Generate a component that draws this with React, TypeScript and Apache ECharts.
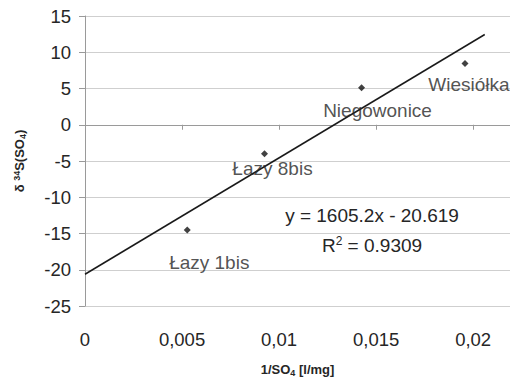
import React, { useEffect, useRef } from "react";
import * as echarts from "echarts";

const siteNames = ["Łazy 1bis", "Łazy 8bis", "Niegowonice", "Wiesiółka"];
const invSO4 = [0.00527, 0.00925, 0.01425, 0.01958];
const delta34S = [-14.5, -4.0, 5.1, 8.45];
const labelOffsets: [number, number][] = [[22, 33], [8, 15], [16, 23], [4, 21]];
const trendX = [0, 0.0206];
const trendY = [-20.619, 12.45];
const equationText = "y = 1605.2x - 20.619";
const r2Value = "0.9309";

const FONT = "'Liberation Sans', Arial, sans-serif";
const TXT = "#262626";

export default function App() {
  const ref = useRef<HTMLDivElement>(null);
  useEffect(() => {
    if (!ref.current) return;
    const chart = echarts.init(ref.current, null, { renderer: "svg" });
    chart.setOption({
      animation: false,
      backgroundColor: "#fff",
      textStyle: { fontFamily: FONT },
      grid: { left: 85, right: 0, top: 16, bottom: 71, containLabel: false },
      xAxis: {
        type: "value",
        min: 0,
        max: 0.0219,
        interval: 0.005,
        name: "1/SO{sub|4} [l/mg]",
        nameLocation: "middle",
        nameGap: 56,
        nameTextStyle: {
          fontFamily: FONT,
          fontWeight: "bold",
          fontSize: 13,
          color: TXT,
          rich: { sub: { fontSize: 9, fontWeight: "bold", verticalAlign: "bottom", padding: [6, 0, 0, 0], fontFamily: FONT, color: TXT } },
        },
        axisLine: { show: true, lineStyle: { color: "#9a9a9a", width: 1 } },
        axisTick: { show: true, length: 5, lineStyle: { color: "#9a9a9a" } },
        splitLine: { show: false },
        axisLabel: {
          fontFamily: FONT,
          fontSize: 18.5,
          color: TXT,
          margin: 24,
          showMaxLabel: false,
          formatter: (v: number) => {
            const r = Math.round(v * 1000) / 1000;
            if (Math.abs(r / 0.005 - Math.round(r / 0.005)) > 1e-6) return "";
            return String(r).replace(".", ",");
          },
        },
      },
      yAxis: {
        type: "value",
        min: -25,
        max: 15,
        interval: 5,
        name: "δ {sup|34}S(SO{sub|4})",
        nameLocation: "middle",
        nameRotate: 90,
        nameGap: 58,
        nameTextStyle: {
          fontFamily: FONT,
          fontWeight: "bold",
          fontSize: 13,
          color: TXT,
          rich: {
            sup: { fontSize: 9, fontWeight: "bold", verticalAlign: "top", padding: [0, 0, 6, 0], fontFamily: FONT, color: TXT },
            sub: { fontSize: 9, fontWeight: "bold", verticalAlign: "bottom", padding: [6, 0, 0, 0], fontFamily: FONT, color: TXT },
          },
        },
        axisLine: { show: true, lineStyle: { color: "#9a9a9a", width: 1 } },
        axisTick: { show: true, length: 6, lineStyle: { color: "#9a9a9a" } },
        splitLine: { show: true, lineStyle: { color: "#cfcfcf", width: 1 } },
        axisLabel: { fontFamily: FONT, fontSize: 18.5, color: TXT, margin: 14 },
      },
      series: [
        {
          type: "line",
          data: trendX.map((x, i) => [x, trendY[i]]),
          showSymbol: false,
          symbol: "none",
          lineStyle: { color: "#1a1a1a", width: 1.5 },
          silent: true,
          z: 2,
        },
        {
          type: "scatter",
          symbol: "diamond",
          symbolSize: 7,
          itemStyle: { color: "#111" },
          z: 3,
          data: invSO4.map((x, i) => ({
            value: [x, delta34S[i]],
            name: siteNames[i],
            label: {
              show: true,
              position: "inside",
              offset: labelOffsets[i],
              formatter: "{b}",
              fontFamily: FONT,
              fontSize: 19,
              color: TXT,
            },
          })),
        },
      ],
      graphic: [
        {
          type: "text",
          x: 372,
          y: 215,
          style: { text: equationText, font: `19px ${FONT}`, fill: TXT, align: "center", verticalAlign: "middle" },
        },
        {
          type: "text",
          x: 372,
          y: 245,
          style: {
            text: `R{sup|2} = ${r2Value}`,
            font: `19px ${FONT}`,
            fill: TXT,
            align: "center",
            verticalAlign: "middle",
            rich: { sup: { fontSize: 12, fontFamily: FONT, fill: TXT, verticalAlign: "top", padding: [0, 0, 8, 0] } },
          },
        },
      ],
    });
    return () => chart.dispose();
  }, []);
  return <div ref={ref} style={{ width: 510, height: 382, position: "absolute", left: 0, top: 0 }} />;
}
